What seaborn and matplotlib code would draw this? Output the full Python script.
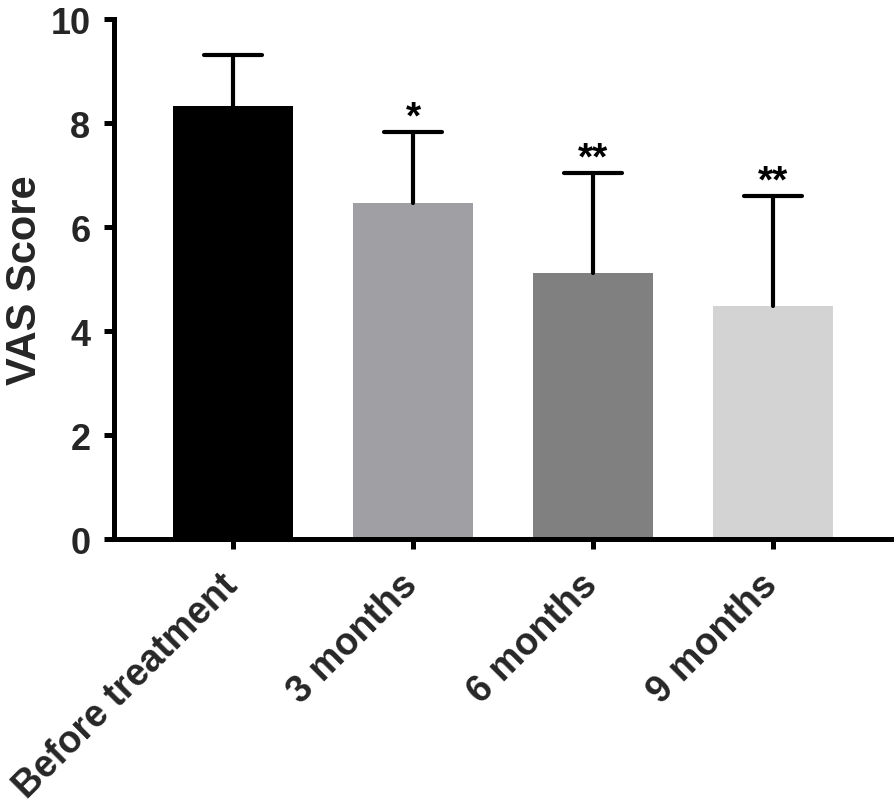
import matplotlib
matplotlib.use('Agg')
import matplotlib.pyplot as plt
import matplotlib.transforms as mtransforms
import seaborn as sns
import pandas as pd
from matplotlib.markers import MarkerStyle

categories = ['Before treatment', '3 months', '6 months', '9 months']
means = [8.33, 6.46, 5.12, 4.49]
sds = [0.97, 1.37, 1.92, 2.11]
stars = ['', '*', '**', '**']
colors = ['#000000', '#a0a0a4', '#808080', '#d3d3d3']
yticks = [0, 2, 4, 6, 8, 10]

sns.set_style('ticks')
plt.rcParams['font.family'] = ['Liberation Sans', 'DejaVu Sans']
plt.rcParams['font.weight'] = 'bold'

df = pd.DataFrame({'group': categories, 'score': means})

fig = plt.figure(figsize=(8.95, 8.12), dpi=100)
ax = fig.add_axes([114 / 895, 272 / 812, 780 / 895, 520 / 812])
sns.barplot(data=df, x='group', y='score', hue='group', palette=colors,
            width=0.667, errorbar=None, legend=False, ax=ax,
            saturation=1, linewidth=0)

xs = list(range(len(categories)))
lower = [0] * len(categories)
eb = ax.errorbar(xs, means, yerr=[lower, sds], fmt='none', ecolor='black',
                 elinewidth=3, capsize=21, capthick=3, zorder=5)
for cap in eb[1]:
    cap.set_marker(MarkerStyle('_', capstyle='round'))
    # hide the zero-length lower caps sitting on the bar tops
    if list(cap.get_ydata()) == list(means):
        cap.set_visible(False)
for coll in eb[2]:
    coll.set_capstyle('round')

for x, m, s, st in zip(xs, means, sds, stars):
    if st:
        ax.text(x, m + s + 0.08, st, ha='center', va='baseline',
                fontsize=28, fontweight='bold', color='black')

ax.set_xlim(-0.663, 3.67)
ax.set_ylim(0, 10)
ax.set_yticks(yticks)
ax.set_yticklabels([str(t) for t in yticks], fontsize=26, fontweight='bold')
ax.set_xticks(xs)
ax.set_xticklabels(categories, rotation=45, ha='right', va='top',
                   rotation_mode='anchor', fontsize=27, fontweight='bold')

for side in ['top', 'right']:
    ax.spines[side].set_visible(False)
for side in ['left', 'bottom']:
    ax.spines[side].set_linewidth(3.6)
    ax.spines[side].set_color('black')
ax.tick_params(axis='both', width=3.6, length=7, direction='out', color='black')
ax.tick_params(axis='y', pad=10)
ax.tick_params(axis='x', pad=17)

shift = mtransforms.ScaledTranslation(-14 / 100, 6 / 100, fig.dpi_scale_trans)
for lab in ax.get_xticklabels():
    lab.set_transform(lab.get_transform() + shift)

ax.set_xlabel('')
ax.set_ylabel('VAS Score', fontsize=30, fontweight='bold')
ax.yaxis.set_label_coords(-0.088, 0.5)

fig.savefig('out.png', dpi=100)
